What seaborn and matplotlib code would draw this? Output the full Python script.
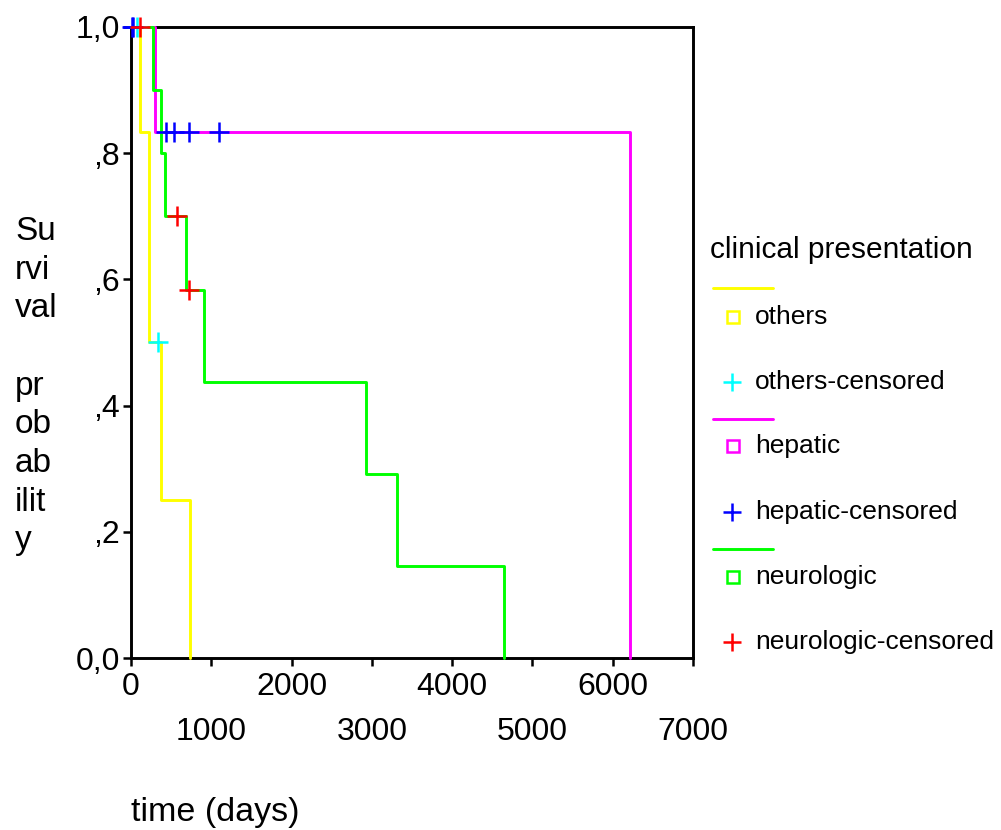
import pandas as pd
import matplotlib.pyplot as plt
import seaborn as sns
from matplotlib.lines import Line2D

# --- data (days, survival probability) ---
others_time = [0, 118, 228, 370, 730]
others_surv = [1.0, 0.833, 0.5, 0.25, 0.0]
hepatic_time = [0, 305, 6215]
hepatic_surv = [1.0, 0.833, 0.0]
neuro_time = [0, 270, 368, 423, 685, 909, 2922, 3309, 4650]
neuro_surv = [1.0, 0.9, 0.8, 0.7, 0.583, 0.4375, 0.2917, 0.1458, 0.0]

others_cens_time = [80, 340]
others_cens_surv = [1.0, 0.5]
hepatic_cens_time = [10, 30, 432, 535, 726, 1100]
hepatic_cens_surv = [1.0, 1.0, 0.833, 0.833, 0.833, 0.833]
neuro_cens_time = [110, 569, 726]
neuro_cens_surv = [1.0, 0.7, 0.583]

groups = ["others", "hepatic", "neurologic"]
line_colors = {"others": "#FFFF00", "hepatic": "#FF00FF", "neurologic": "#00FF00"}
cens_colors = {"others": "#00FFFF", "hepatic": "#0000FF", "neurologic": "#FF0000"}

x_ticks = [0, 1000, 2000, 3000, 4000, 5000, 6000, 7000]
y_ticks = [0.0, 0.2, 0.4, 0.6, 0.8, 1.0]
y_ticklabels = ["0,0", ",2", ",4", ",6", ",8", "1,0"]

curves = pd.concat([
    pd.DataFrame({"time": others_time, "surv": others_surv, "group": "others"}),
    pd.DataFrame({"time": hepatic_time, "surv": hepatic_surv, "group": "hepatic"}),
    pd.DataFrame({"time": neuro_time, "surv": neuro_surv, "group": "neurologic"}),
], ignore_index=True)
censored = pd.concat([
    pd.DataFrame({"time": others_cens_time, "surv": others_cens_surv, "group": "others"}),
    pd.DataFrame({"time": hepatic_cens_time, "surv": hepatic_cens_surv, "group": "hepatic"}),
    pd.DataFrame({"time": neuro_cens_time, "surv": neuro_cens_surv, "group": "neurologic"}),
], ignore_index=True)

sns.set_style("white")
plt.rcParams["font.family"] = ["Liberation Sans", "DejaVu Sans"]
plt.rcParams["text.color"] = "black"

W, H = 1001, 830
LW = 2.1
fig = plt.figure(figsize=(W / 100, H / 100), dpi=100)
ax = fig.add_axes([131 / W, 1 - 658 / H, (693 - 131) / W, (658 - 27) / H])

sns.lineplot(data=curves, x="time", y="surv", hue="group", hue_order=groups,
             palette=line_colors, estimator=None, sort=False, drawstyle="steps-post",
             linewidth=LW, legend=False, ax=ax, zorder=3, clip_on=False)
for g in groups:
    sub = censored[censored["group"] == g]
    ax.plot(sub["time"], sub["surv"], linestyle="none", marker="+", ms=15, mew=1.8,
            color=cens_colors[g], zorder=4, clip_on=False)

ax.set_xlim(0, 7000)
ax.set_ylim(0, 1.0)
ax.set_xticks(x_ticks)
ax.set_xticklabels([str(t) if i % 2 == 0 else "\n" + str(t) for i, t in enumerate(x_ticks)])
ax.set_yticks(y_ticks)
ax.set_yticklabels(y_ticklabels)
ax.tick_params(axis="both", labelsize=23, length=6, width=1.8, direction="out",
               color="black", labelcolor="black")
ax.tick_params(axis="x", pad=4)
ax.tick_params(axis="y", pad=2)
for lab in ax.get_xticklabels():
    lab.set_linespacing(1.65)
ax.xaxis.set_ticks_position("bottom")
ax.yaxis.set_ticks_position("left")
ax.set_xlabel("")
ax.set_ylabel("")
for s in ax.spines.values():
    s.set_visible(True)
    s.set_color("black")
    s.set_linewidth(LW)

# y label broken into pieces like the original
fig.text(15 / W, 1 - 216 / H, "Su\nrvi\nval\n\npr\nob\nab\nilit\ny",
         fontsize=24, ha="left", va="top", linespacing=1.32)
fig.text(131 / W, 1 - 812 / H, "time (days)", fontsize=24.5, ha="left", va="center")

# legend
def fx(px):
    return px / W

def fy(py):
    return 1 - py / H

fig.text(fx(710), fy(250), "clinical presentation", fontsize=21.5, ha="left", va="center")
legend_rows = [
    ("others", 288, 317, 382),
    ("hepatic", 419, 446, 512),
    ("neurologic", 549, 577, 642),
]
for g, y_line, y_sq, y_cens in legend_rows:
    fig.add_artist(Line2D([fx(713), fx(773)], [fy(y_line), fy(y_line)],
                          color=line_colors[g], linewidth=LW, transform=fig.transFigure))
    fig.add_artist(Line2D([fx(733)], [fy(y_sq)], marker="s", ms=8, mfc="none", mew=1.8,
                          color=line_colors[g], linestyle="none", transform=fig.transFigure))
    fig.text(fx(755), fy(y_sq), g, fontsize=19, ha="left", va="center")
    fig.add_artist(Line2D([fx(732)], [fy(y_cens)], marker="+", ms=13, mew=1.8,
                          color=cens_colors[g], linestyle="none", transform=fig.transFigure))
    fig.text(fx(755), fy(y_cens), g + "-censored", fontsize=19, ha="left", va="center")

fig.savefig("out.png", dpi=100)
